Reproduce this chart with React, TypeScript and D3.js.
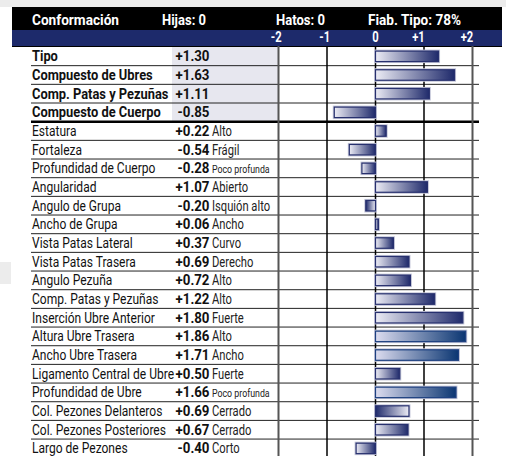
import React from "react";
import * as d3 from "d3";

const headerTexts = ["Conformación", "Hijas: 0", "Hatos: 0", "Fiab. Tipo: 78%"];
const tickValues = [-2, -1, 0, 1, 2];
const tickLabels = ["-2", "-1", "0", "+1", "+2"];

const traits = [
  "Tipo",
  "Compuesto de Ubres",
  "Comp. Patas y Pezuñas",
  "Compuesto de Cuerpo",
  "Estatura",
  "Fortaleza",
  "Profundidad de Cuerpo",
  "Angularidad",
  "Angulo de Grupa",
  "Ancho de Grupa",
  "Vista Patas Lateral",
  "Vista Patas Trasera",
  "Angulo Pezuña",
  "Comp. Patas y Pezuñas",
  "Inserción Ubre Anterior",
  "Altura Ubre Trasera",
  "Ancho Ubre Trasera",
  "Ligamento Central de Ubre",
  "Profundidad de Ubre",
  "Col. Pezones Delanteros",
  "Col. Pezones Posteriores",
  "Largo de Pezones",
];
const values = [
  1.3, 1.63, 1.11, -0.85, 0.22, -0.54, -0.28, 1.07, -0.2, 0.06, 0.37, 0.69, 0.72,
  1.22, 1.8, 1.86, 1.71, 0.5, 1.66, 0.69, 0.67, -0.4,
];
const valueLabels = [
  "+1.30", "+1.63", "+1.11", "-0.85", "+0.22", "-0.54", "-0.28", "+1.07", "-0.20",
  "+0.06", "+0.37", "+0.69", "+0.72", "+1.22", "+1.80", "+1.86", "+1.71", "+0.50",
  "+1.66", "+0.69", "+0.67", "-0.40",
];
const descriptors = [
  "", "", "", "", "Alto", "Frágil", "Poco profunda", "Abierto", "Isquión alto",
  "Ancho", "Curvo", "Derecho", "Alto", "Alto", "Fuerte", "Alto", "Ancho", "Fuerte",
  "Poco profunda", "Cerrado", "Cerrado", "Corto",
];
const compositeCount = 4;

// style lookups (not data)
const reversedBars = new Set([8, 19]);
const blueBars = new Set([15, 16, 18]);
const smallDescriptors = new Set(["Poco profunda"]);

const NAVY = "#1d2a6b";
const FONT = "Roboto, 'Liberation Sans', sans-serif";

function T(props: {
  x: number;
  y: number;
  size: number;
  bold?: boolean;
  fill?: string;
  anchor?: string;
  sx: number;
  children: React.ReactNode;
}) {
  const { x, y, size, bold, fill = "#111", anchor = "start", sx, children } = props;
  return (
    <text
      transform={`translate(${x},${y}) scale(${sx},1)`}
      fontSize={size}
      fontWeight={bold ? "bold" : "normal"}
      fill={fill}
      textAnchor={anchor}
    >
      {children}
    </text>
  );
}

export default function App() {
  const W = 506;
  const H = 456;
  const rowTop = 47;
  const rowH = 18.67;
  const x = d3.scaleLinear().domain([-2, 2]).range([278.5, 472.5]);
  const y = d3
    .scaleBand<number>()
    .domain(d3.range(traits.length))
    .range([rowTop, rowTop + rowH * traits.length])
    .paddingInner(0)
    .paddingOuter(0);
  const labelX = 32;
  const valueRight = 209.5;
  const descX = 212;
  const lineRight = 479;
  const barH = 10.5;
  const headerX = [32, 162, 276, 368];
  const headerW = [87, 44, 49, 93];

  return (
    <svg
      width={W}
      height={H}
      style={{ position: "absolute", left: 0, top: 0, background: "#fff" }}
      fontFamily={FONT}
    >
      <defs>
        <linearGradient id="g" x1="0" x2="1" y1="0" y2="0">
          <stop offset="0" stopColor="#ececf5" />
          <stop offset="1" stopColor="#1f2a6b" />
        </linearGradient>
        <linearGradient id="gr" x1="0" x2="1" y1="0" y2="0">
          <stop offset="0" stopColor="#1f2a6b" />
          <stop offset="1" stopColor="#ececf5" />
        </linearGradient>
        <linearGradient id="gb" x1="0" x2="1" y1="0" y2="0">
          <stop offset="0" stopColor="#dcdcef" />
          <stop offset="1" stopColor="#0b3672" />
        </linearGradient>
      </defs>
      <rect x={0} y={0} width={W} height={7} fill="#ececec" />
      <rect x={0} y={262} width={11} height={22} fill="#ececec" />
      {/* header */}
      <rect x={12} y={7} width={490} height={23} fill="#000" />
      <rect x={12} y={30} width={490} height={16} fill={NAVY} />
      {headerTexts.map((t, i) => (
        <text
          key={t}
          x={headerX[i]}
          y={24.5}
          fontSize={15}
          fontWeight="bold"
          fill="#fff"
          textLength={headerW[i]}
          lengthAdjust="spacingAndGlyphs"
        >
          {t}
        </text>
      ))}
      {tickValues.map((v, i) => (
        <T
          key={v}
          x={x(v) - (v > 0 ? 5.5 : v < 0 ? 2.3 : 0)}
          y={42}
          size={14}
          bold
          fill="#fff"
          anchor="middle"
          sx={0.8}
        >
          {tickLabels[i]}
        </T>
      ))}
      <line x1={12} x2={502} y1={46.5} y2={46.5} stroke="#000" strokeWidth={1} />
      {/* composite value backgrounds */}
      <rect
        x={172}
        y={rowTop}
        width={x(-2) - 172}
        height={rowH * compositeCount}
        fill="#e7e7ef"
      />
      {/* row lines */}
      {traits.map((_, i) => {
        const yy = (y(i) as number) + rowH;
        const thick = i === compositeCount - 1;
        return (
          <line
            key={"l" + i}
            x1={labelX - 1}
            x2={lineRight}
            y1={yy}
            y2={yy}
            stroke={thick ? "#000" : "#222"}
            strokeWidth={thick ? 2.5 : 1}
          />
        );
      })}
      {/* vertical grid */}
      {tickValues.map((v) => {
        const edge = Math.abs(v) === 2;
        return (
          <line
            key={"v" + v}
            x1={x(v)}
            x2={x(v)}
            y1={46}
            y2={H}
            stroke={edge ? "#555" : "#000"}
            strokeWidth={edge ? 2 : 1.5}
          />
        );
      })}
      {/* bars */}
      {values.map((v, i) => {
        const x0 = Math.min(x(0), x(v));
        const w = Math.abs(x(v) - x(0));
        const cy = (y(i) as number) + rowH / 2;
        const fill = reversedBars.has(i) ? "url(#gr)" : blueBars.has(i) ? "url(#gb)" : "url(#g)";
        const stroke = blueBars.has(i) ? "#1d4080" : "#27306e";
        return (
          <g key={"b" + i}>
            <rect x={x0} y={cy - barH / 2} width={w} height={barH} fill="none" stroke="#c4c6d8" strokeWidth={3} />
            <rect x={x0} y={cy - barH / 2} width={w} height={barH} fill={fill} stroke={stroke} strokeWidth={1.2} />
          </g>
        );
      })}
      {/* labels */}
      {traits.map((t, i) => {
        const comp = i < compositeCount;
        const base = (y(i) as number) + rowH / 2 + 5;
        return (
          <g key={"t" + i}>
            <T x={labelX} y={base} size={14} bold={comp} sx={comp ? 0.92 : 0.86}>
              {t}
            </T>
            <T x={valueRight} y={base} size={14} bold anchor="end" sx={0.95}>
              {valueLabels[i]}
            </T>
            {descriptors[i] && (
              <T
                x={descX}
                y={base}
                size={smallDescriptors.has(descriptors[i]) ? 11 : 14}
                fill="#222"
                sx={0.8}
              >
                {descriptors[i]}
              </T>
            )}
          </g>
        );
      })}
    </svg>
  );
}
